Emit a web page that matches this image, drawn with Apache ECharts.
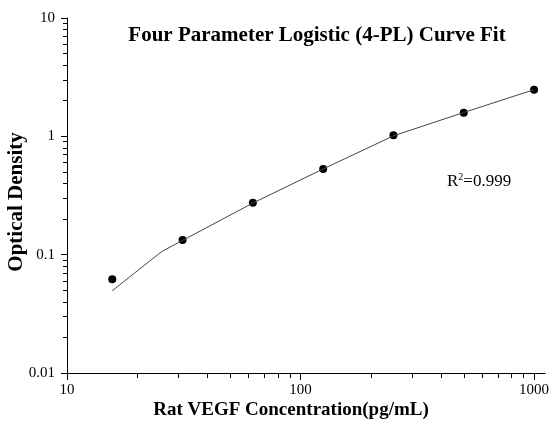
<!DOCTYPE html>
<html><head><meta charset="utf-8">
<script src="https://cdn.jsdelivr.net/npm/echarts@6/dist/echarts.min.js"></script>
<style>html,body{margin:0;padding:0;background:#fff}#c{width:553px;height:425px}</style>
</head><body><div id="c"></div>
<script>
// Data
const concentrations = [15.625, 31.25, 62.5, 125, 250, 500, 1000];
const odValues = [0.062, 0.133, 0.275, 0.53, 1.02, 1.585, 2.47];
const curveX = [15.625, 25.4, 31.25, 62.5, 125, 250, 500, 1000];
const curveY = [0.0496, 0.106, 0.132, 0.273, 0.53, 1.01, 1.59, 2.48];
const xMajorTicks = [10, 100, 1000];
const xMinorTicks = [20, 30, 40, 50, 60, 70, 80, 90, 200, 300, 400, 500, 600, 700, 800, 900];
const yMajorTicks = [0.01, 0.1, 1, 10];
const yMinorTicks = [0.02,0.03,0.04,0.05,0.06,0.07,0.08,0.09,0.2,0.3,0.4,0.5,0.6,0.7,0.8,0.9,2,3,4,5,6,7,8,9];
const titleText = 'Four Parameter Logistic (4-PL) Curve Fit';
const xName = 'Rat VEGF Concentration(pg/mL)';
const yName = 'Optical Density';

const FONT = "'Times New Roman','Liberation Serif',serif";
const fmt = v => String(+(+v).toPrecision(3));
const chart = echarts.init(document.getElementById('c'), null, {renderer: 'canvas'});
const axisCommon = {
  type: 'log', logBase: 10,
  splitLine: {show: false},
  axisLine: {lineStyle: {color: '#000', width: 1}},
};
chart.setOption({
  animation: false,
  backgroundColor: '#fff',
  grid: {left: 67, right: 8, top: 18, bottom: 52},
  xAxis: [
    Object.assign({}, axisCommon, {
      min: 10, max: 1114,
      axisTick: {length: 7, customValues: xMajorTicks, lineStyle: {color: '#000'}},
      axisLabel: {customValues: xMajorTicks, formatter: fmt, fontFamily: FONT, fontSize: 15, color: '#000', margin: 10}
    }),
    Object.assign({}, axisCommon, {
      min: 10, max: 1114, position: 'bottom',
      axisLine: {show: false},
      axisTick: {length: 5, customValues: xMinorTicks, lineStyle: {color: '#000'}},
      axisLabel: {show: false}
    })
  ],
  yAxis: [
    Object.assign({}, axisCommon, {
      min: 0.01, max: 10,
      axisTick: {length: 6, customValues: yMajorTicks, lineStyle: {color: '#000'}},
      axisLabel: {customValues: yMajorTicks, formatter: fmt, fontFamily: FONT, fontSize: 15, color: '#000', margin: 12}
    }),
    Object.assign({}, axisCommon, {
      min: 0.01, max: 10, position: 'left',
      axisLine: {show: false},
      axisTick: {length: 4, customValues: yMinorTicks, lineStyle: {color: '#000'}},
      axisLabel: {show: false}
    })
  ],
  graphic: [
    {type: 'text', x: 317, y: 36, style: {text: titleText, font: 'bold 21px ' + FONT, fill: '#000', align: 'center', verticalAlign: 'middle'}},
    {type: 'text', x: 291, y: 410, style: {text: xName, font: 'bold 19px ' + FONT, fill: '#000', align: 'center', verticalAlign: 'middle'}},
    {type: 'text', x: 17, y: 202, rotation: Math.PI / 2, style: {text: yName, font: 'bold 21px ' + FONT, fill: '#000', align: 'center', verticalAlign: 'middle'}},
    {type: 'text', x: 447, y: 182, style: {
      text: 'R{sup|2}=0.999', font: '17px ' + FONT, fill: '#000', verticalAlign: 'middle',
      rich: {sup: {fontSize: 10, fontFamily: FONT, verticalAlign: 'top', padding: [0, 0, 10, 0]}}
    }}
  ],
  series: [
    {
      type: 'line', xAxisIndex: 0, yAxisIndex: 0,
      data: curveX.map((x, i) => [x, curveY[i]]),
      showSymbol: false, smooth: false,
      lineStyle: {color: '#444', width: 1}
    },
    {
      type: 'scatter', xAxisIndex: 0, yAxisIndex: 0,
      data: concentrations.map((x, i) => [x, odValues[i]]),
      symbol: 'circle', symbolSize: 8,
      itemStyle: {color: '#000', opacity: 1}
    }
  ]
});
</script></body></html>
